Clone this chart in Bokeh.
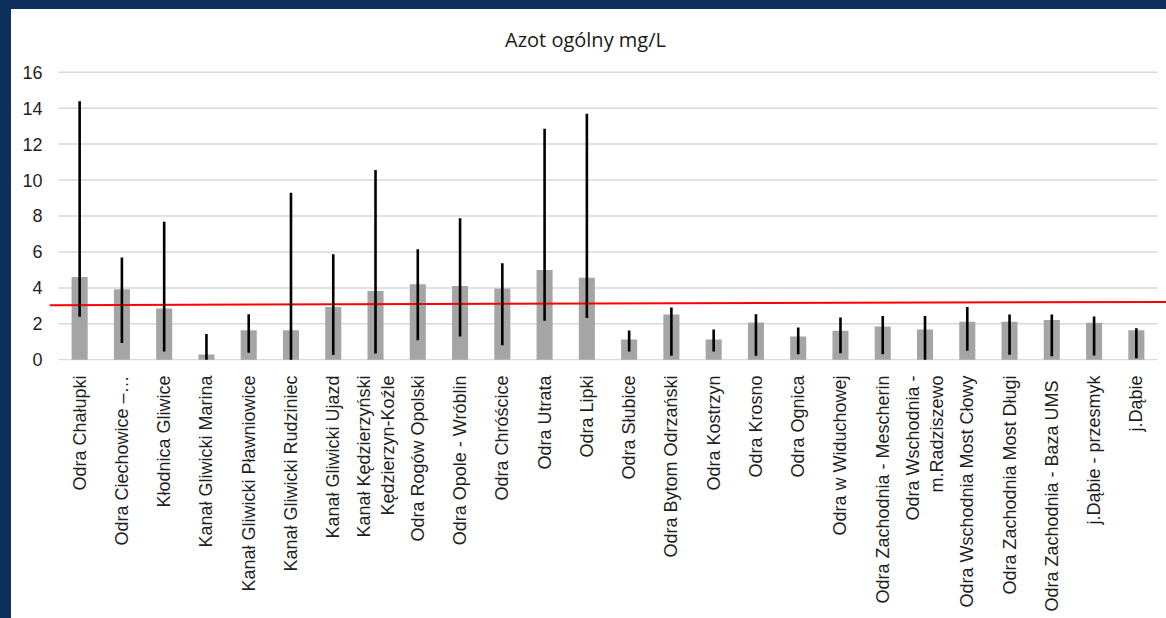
import math
from bokeh.plotting import figure
from bokeh.models import FactorRange, Range1d, FixedTicker, ColumnDataSource, Label
from bokeh.embed import file_html
from bokeh.resources import INLINE

title_text = "Azot ogólny mg/L"

categories = [
    "Odra Chałupki", "Odra Ciechowice –…", "Kłodnica Gliwice", "Kanał Gliwicki Marina",
    "Kanał Gliwicki Pławniowice", "Kanał Gliwicki Rudziniec", "Kanał Gliwicki Ujazd",
    "Kanał Kędzierzyński\nKędzierzyn-Koźle", "Odra Rogów Opolski", "Odra Opole - Wróblin",
    "Odra Chróścice", "Odra Utrata", "Odra Lipki", "Odra Słubice", "Odra Bytom Odrzański",
    "Odra Kostrzyn", "Odra Krosno", "Odra Ognica", "Odra w Widuchowej",
    "Odra Zachodnia - Mescherin", "Odra Wschodnia -\nm.Radziszewo", "Odra Wschodnia Most Cłowy",
    "Odra Zachodnia Most Długi", "Odra Zachodnia  - Baza UMS", "j.Dąbie - przesmyk", "j.Dąbie",
]

mean_values = [4.61, 3.93, 2.85, 0.30, 1.65, 1.65, 2.93, 3.83, 4.20, 4.11, 3.96, 5.00, 4.56,
               1.13, 2.52, 1.13, 2.07, 1.29, 1.61, 1.85, 1.69, 2.11, 2.11, 2.22, 2.06, 1.65]
min_values = [2.39, 0.93, 0.46, 0.00, 0.39, 0.00, 0.26, 0.35, 1.09, 1.30, 0.81, 2.17, 2.33,
              0.46, 0.22, 0.46, 0.22, 0.31, 0.37, 0.31, 0.00, 0.50, 0.28, 0.20, 0.24, 0.09]
max_values = [14.39, 5.69, 7.68, 1.43, 2.54, 9.29, 5.87, 10.56, 6.15, 7.87, 5.37, 12.85, 13.69,
              1.63, 2.91, 1.69, 2.54, 1.80, 2.35, 2.44, 2.44, 2.94, 2.52, 2.52, 2.41, 1.76]

y_ticks = [0, 2, 4, 6, 8, 10, 12, 14, 16]
red_line_y = [3.04, 3.22]  # limit line, left end / right end

NAVY = "#0c2f5c"
TEXT = "#1f1f1f"

n = len(categories)
pad = 0.213  # per side, in category units
x_range = FactorRange(factors=categories, range_padding=pad, range_padding_units="absolute")

# frame spans from the top of the canvas down to the zero line; the title sits inside it
p = figure(x_range=x_range, y_range=Range1d(-0.04, 19.99), width=1166, height=618,
           output_backend="svg", toolbar_location=None,
           min_border_left=49, min_border_right=0, min_border_top=0, min_border_bottom=258)
p.styles = {"background-color": "white", "box-shadow": f"inset 11px 9px 0 0 {NAVY}"}
p.outline_line_color = None
p.background_fill_color = None
p.border_fill_color = None
p.xgrid.visible = False
p.ygrid.visible = False

# horizontal gridlines spanning the categories
grid_src = ColumnDataSource(dict(x0=[0] * len(y_ticks), x1=[n] * len(y_ticks), y=y_ticks))
p.segment(x0="x0", x1="x1", y0="y", y1="y", source=grid_src,
          line_color="#d9d9d9", line_width=1.5)

bar_src = ColumnDataSource(dict(x=categories, top=mean_values, lo=min_values, hi=max_values))
p.vbar(x="x", top="top", bottom=0, width=0.38, source=bar_src,
       fill_color="#a5a5a5", line_color=None)

red_src = ColumnDataSource(dict(x0=[-pad], x1=[n + pad],
                                y0=[red_line_y[0]], y1=[red_line_y[1]]))
p.segment(x0="x0", x1="x1", y0="y0", y1="y1", source=red_src,
          line_color="#ff0000", line_width=2)

p.segment(x0="x", x1="x", y0="lo", y1="hi", source=bar_src,
          line_color="black", line_width=2.6)

p.add_layout(Label(x=536, y=321, x_units="screen", y_units="screen", text=title_text,
                   text_align="center", text_baseline="alphabetic",
                   text_font="Open Sans", text_font_size="20px", text_color="#1a1a1a"))

p.xaxis.major_label_orientation = math.pi / 2
p.xaxis.major_label_text_font = "Liberation Sans"
p.xaxis.major_label_text_font_size = "18px"
p.xaxis.major_label_text_color = TEXT
p.xaxis.axis_line_color = None
p.xaxis.major_tick_line_color = None
p.xaxis.minor_tick_line_color = None
p.xaxis.major_tick_out = 0
p.xaxis.major_tick_in = 0
p.xaxis.major_label_standoff = 15

p.yaxis.ticker = FixedTicker(ticks=y_ticks)
p.yaxis.major_label_text_font = "Liberation Sans"
p.yaxis.major_label_text_font_size = "18px"
p.yaxis.major_label_text_color = TEXT
p.yaxis.axis_line_color = None
p.yaxis.major_tick_line_color = None
p.yaxis.minor_tick_line_color = None
p.yaxis.major_tick_out = 0
p.yaxis.major_tick_in = 0
p.yaxis.major_label_standoff = 7

open("out.html", "w").write(file_html(p, INLINE))
